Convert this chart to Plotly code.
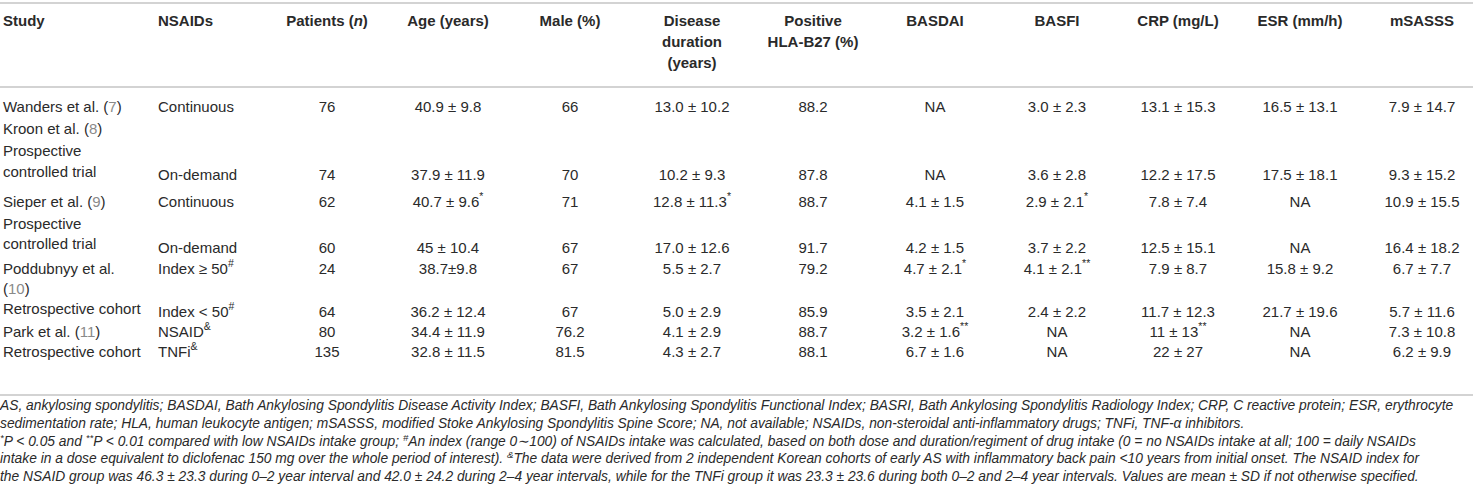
import plotly.graph_objects as go

# Table content
headers = ["Study", "NSAIDs", "Patients (<i>n</i>)", "Age (years)", "Male (%)",
           "Disease<br>duration<br>(years)", "Positive<br>HLA-B27 (%)", "BASDAI",
           "BASFI", "CRP (mg/L)", "ESR (mm/h)", "mSASSS"]

study_lines = ["Wanders et al. (7)", "Kroon et al. (8)", "Prospective", "controlled trial",
               "Sieper et al. (9)", "Prospective", "controlled trial",
               "Poddubnyy et al.", "(10)", "Retrospective cohort",
               "Park et al. (11)", "Retrospective cohort"]

nsaids = ["Continuous", "On-demand", "Continuous", "On-demand",
          "Index ≥ 50#", "Index < 50#", "NSAID&", "TNFi&"]
patients = ["76", "74", "62", "60", "24", "64", "80", "135"]
age = ["40.9 ± 9.8", "37.9 ± 11.9", "40.7 ± 9.6*", "45 ± 10.4", "38.7±9.8",
       "36.2 ± 12.4", "34.4 ± 11.9", "32.8 ± 11.5"]
male = ["66", "70", "71", "67", "67", "67", "76.2", "81.5"]
duration = ["13.0 ± 10.2", "10.2 ± 9.3", "12.8 ± 11.3*", "17.0 ± 12.6", "5.5 ± 2.7",
            "5.0 ± 2.9", "4.1 ± 2.9", "4.3 ± 2.7"]
hla_b27 = ["88.2", "87.8", "88.7", "91.7", "79.2", "85.9", "88.7", "88.1"]
basdai = ["NA", "NA", "4.1 ± 1.5", "4.2 ± 1.5", "4.7 ± 2.1*", "3.5 ± 2.1",
          "3.2 ± 1.6**", "6.7 ± 1.6"]
basfi = ["3.0 ± 2.3", "3.6 ± 2.8", "2.9 ± 2.1*", "3.7 ± 2.2", "4.1 ± 2.1**",
         "2.4 ± 2.2", "NA", "NA"]
crp = ["13.1 ± 15.3", "12.2 ± 17.5", "7.8 ± 7.4", "12.5 ± 15.1", "7.9 ± 8.7",
       "11.7 ± 12.3", "11 ± 13**", "22 ± 27"]
esr = ["16.5 ± 13.1", "17.5 ± 18.1", "NA", "NA", "15.8 ± 9.2", "21.7 ± 19.6", "NA", "NA"]
msasss = ["7.9 ± 14.7", "9.3 ± 15.2", "10.9 ± 15.5", "16.4 ± 18.2", "6.7 ± 7.7",
          "5.7 ± 11.6", "7.3 ± 10.8", "6.2 ± 9.9"]

footnotes = [
    "AS, ankylosing spondylitis; BASDAI, Bath Ankylosing Spondylitis Disease Activity Index; BASFI, Bath Ankylosing Spondylitis Functional Index; BASRI, Bath Ankylosing Spondylitis Radiology Index; CRP, C reactive protein; ESR, erythrocyte",
    "sedimentation rate; HLA, human leukocyte antigen; mSASSS, modified Stoke Ankylosing Spondylitis Spine Score; NA, not available; NSAIDs, non-steroidal anti-inflammatory drugs; TNFi, TNF-α inhibitors.",
    "<sup>*</sup>P &lt; 0.05 and <sup>**</sup>P &lt; 0.01 compared with low NSAIDs intake group; <sup>#</sup>An index (range 0∼100) of NSAIDs intake was calculated, based on both dose and duration/regiment of drug intake (0 = no NSAIDs intake at all; 100 = daily NSAIDs",
    "intake in a dose equivalent to diclofenac 150 mg over the whole period of interest). <sup>&</sup>The data were derived from 2 independent Korean cohorts of early AS with inflammatory back pain &lt;10 years from initial onset. The NSAID index for",
    "the NSAID group was 46.3 ± 23.3 during 0–2 year interval and 42.0 ± 24.2 during 2–4 year intervals, while for the TNFi group it was 23.3 ± 23.6 during both 0–2 and 2–4 year intervals. Values are mean ± SD if not otherwise specified.",
]

# layout positions (pixels of the 1473x503 canvas)
W, H = 1473, 503
col_x = [3, 158, 327, 448, 570, 692, 813, 935, 1057, 1178, 1300, 1422]
header_y = 22
row_y = [108, 176, 203, 249, 270, 313, 333, 353]
study_y = [108, 130, 152, 173, 203, 225, 245, 270, 290, 310, 333, 353]
foot_y = [407, 425, 443, 460, 478]
rule_y = [3, 87, 395]

TXT = "#2a2a2a"
REF = "#8a8a8a"
FONT = "Liberation Sans, Arial, sans-serif"


def mark(s):
    # superscript the trailing significance / footnote marks
    for m in ["**", "*", "#", "&"]:
        if s.endswith(m):
            return s[: -len(m)].replace("<", "&lt;") + "<sup>" + m + "</sup>"
    return s.replace("<", "&lt;")


def ref(s):
    # grey reference numbers like (7)
    if "(" in s:
        i = s.index("(")
        return s[:i] + "(<span style='color:%s'>%s</span>)" % (REF, s[i + 1:s.index(")")])
    return s


fig = go.Figure()

# header row, one point per text line
hx, hy, ht = [], [], []
for x, h in zip(col_x[2:], headers[2:]):
    for k, part in enumerate(h.split("<br>")):
        hx.append(x)
        hy.append(header_y + 21 * k)
        ht.append("<b>" + part + "</b>")
fig.add_trace(go.Scatter(x=hx, y=hy, text=ht, mode="text", textposition="middle center",
                         textfont=dict(family=FONT, size=15, color=TXT)))
fig.add_trace(go.Scatter(x=col_x[:2], y=[header_y] * 2, text=["<b>%s</b>" % h for h in headers[:2]],
                         mode="text", textposition="middle right",
                         textfont=dict(family=FONT, size=15, color=TXT)))

# study column
fig.add_trace(go.Scatter(x=[col_x[0]] * len(study_lines), y=study_y,
                         text=[ref(s) for s in study_lines], mode="text",
                         textposition="middle right",
                         textfont=dict(family=FONT, size=15, color=TXT)))

# NSAIDs column
fig.add_trace(go.Scatter(x=[col_x[1]] * len(nsaids), y=row_y,
                         text=[mark(s) for s in nsaids],
                         mode="text", textposition="middle right",
                         textfont=dict(family=FONT, size=15, color=TXT)))

# numeric columns
for x, col in zip(col_x[2:], [patients, age, male, duration, hla_b27, basdai, basfi, crp, esr, msasss]):
    fig.add_trace(go.Scatter(x=[x] * len(col), y=row_y, text=[mark(v) for v in col],
                             mode="text", textposition="middle center",
                             textfont=dict(family=FONT, size=15, color=TXT)))

# footnotes
fig.add_trace(go.Scatter(x=[0] * len(footnotes), y=foot_y,
                         text=["<i>%s</i>" % f for f in footnotes], mode="text",
                         textposition="middle right",
                         textfont=dict(family=FONT, size=13.8, color=TXT)))

for y in rule_y:
    fig.add_shape(type="line", xref="paper", x0=0, x1=1, yref="y", y0=y, y1=y,
                  line=dict(color="#c4c4c4", width=1.5))

fig.update_layout(
    width=W, height=H,
    margin=dict(l=0, r=0, t=0, b=0),
    paper_bgcolor="white", plot_bgcolor="white",
    showlegend=False, hovermode=False,
    xaxis=dict(range=[0, W], visible=False, fixedrange=True),
    yaxis=dict(range=[H, 0], visible=False, fixedrange=True),
)

# drop the browser's default body margin so the canvas sits at the page corner
fig.write_html("out.html", config={"displayModeBar": False},
               post_script="document.body.style.margin='0px';")
